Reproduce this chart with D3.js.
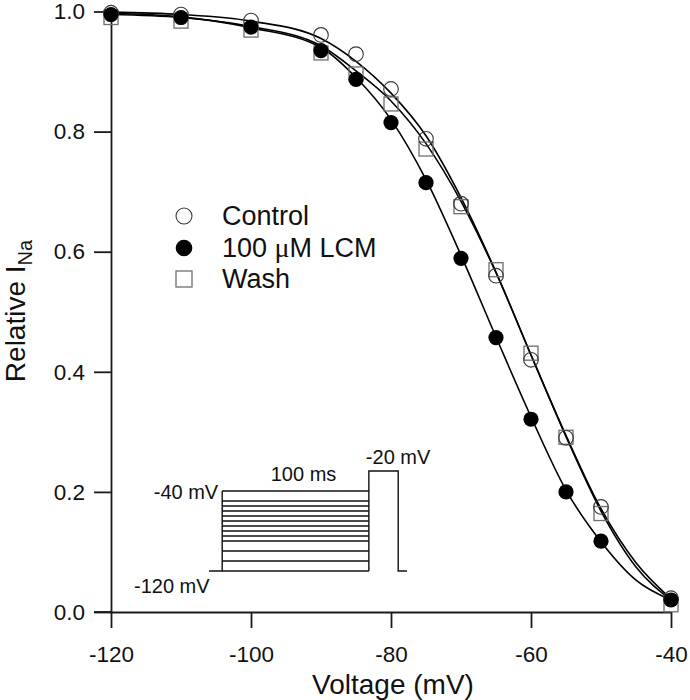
<!DOCTYPE html>
<html>
<head>
<meta charset="utf-8">
<script src="https://cdn.jsdelivr.net/npm/d3@7"></script>
<style>
  html, body { margin: 0; padding: 0; background: #fff; }
  svg { display: block; font-family: Arial, "Liberation Sans", sans-serif; }
</style>
</head>
<body>
<svg id="chart" width="690" height="700"></svg>
<script>
// ---- data ----
const voltages = [-120, -110, -100, -90, -85, -80, -75, -70, -65, -60, -55, -50, -40];
const control  = [0.998, 0.995, 0.985, 0.961, 0.929, 0.871, 0.788, 0.680, 0.560, 0.420, 0.290, 0.175, 0.023];
const lcm      = [0.995, 0.990, 0.974, 0.935, 0.887, 0.815, 0.715, 0.589, 0.457, 0.321, 0.200, 0.118, 0.020];
const wash     = [0.990, 0.984, 0.969, 0.931, 0.896, 0.846, 0.771, 0.675, 0.570, 0.431, 0.291, 0.164, 0.012];

// fitted curves
const fitVoltages = [-120, -110, -100, -90, -85, -80, -75, -70, -65, -60, -55, -50, -45, -40];
const controlFit  = [0.999, 0.995, 0.984, 0.955, 0.917, 0.864, 0.793, 0.690, 0.566, 0.428, 0.294, 0.172, 0.082, 0.022];
const washFit     = [0.995, 0.990, 0.975, 0.943, 0.901, 0.851, 0.780, 0.684, 0.565, 0.428, 0.292, 0.168, 0.075, 0.020];
const lcmFit      = [0.997, 0.991, 0.973, 0.940, 0.890, 0.820, 0.720, 0.594, 0.458, 0.325, 0.203, 0.117, 0.053, 0.020];

const xTicks = [-120, -100, -80, -60, -40];
const yTicks = [0.0, 0.2, 0.4, 0.6, 0.8, 1.0];
// legend labels as [before-mu, mu, after-mu]
const legendLabels = [["Control", "", ""], ["100 ", "\u03BC", "M LCM"], ["Wash", "", ""]];
const xTitle = "Voltage (mV)";

// inset protocol
const protoLevels = [-120, -110, -100, -90, -85, -80, -75, -70, -65, -60, -55, -50, -40];
const protoHold = -120, protoTest = -20;
const protoTimes = [0, 9, 109, 129, 135]; // ms: hold start, prepulse start, prepulse end, test end, end

// ---- layout ----
const svg = d3.select("#chart");
const x = d3.scaleLinear().domain([-120, -40]).range([111, 671]);
const y = d3.scaleLinear().domain([0, 1]).range([612, 11.5]);
const ink = "#1a1a1a";

// axes
const gx = svg.append("g").attr("transform", `translate(0,${y(0)})`)
  .call(d3.axisBottom(x).tickValues(xTicks).tickSize(16).tickSizeOuter(0).tickPadding(18).tickFormat(d => String(d)));
const gy = svg.append("g").attr("transform", `translate(${x(-120)},0)`)
  .call(d3.axisLeft(y).tickValues(yTicks).tickSize(17).tickSizeOuter(0).tickPadding(9).tickFormat(d3.format(".1f")));
[gx, gy].forEach(g => {
  g.selectAll("path.domain").attr("stroke", ink).attr("stroke-width", 1.8);
  g.selectAll(".tick line").attr("stroke", ink).attr("stroke-width", 1.8);
  g.selectAll(".tick text").attr("fill", "#111").style("font-size", "22.5px").style("font-family", "Arial, 'Liberation Sans', sans-serif");
});
// x axis baseline extends left to the end of the y tick
svg.append("line").attr("x1", x(-120) - 17).attr("x2", x(-120)).attr("y1", y(0)).attr("y2", y(0))
  .attr("stroke", ink).attr("stroke-width", 1.8);

// titles
svg.append("text").attr("x", (x(-120) + x(-40)) / 2 + 2).attr("y", 694)
  .attr("text-anchor", "middle").style("font-size", "28px").attr("fill", "#111").text(xTitle);
const yt = svg.append("text").attr("transform", `translate(25,311) rotate(-90)`)
  .attr("text-anchor", "middle").style("font-size", "28px").attr("fill", "#111");
yt.append("tspan").text("Relative I");
yt.append("tspan").attr("dy", 7).style("font-size", "20px").text("Na");

// fitted curves
const line = d3.line().x(d => x(d[0])).y(d => y(d[1])).curve(d3.curveMonotoneX);
[controlFit, washFit, lcmFit].forEach(arr => {
  svg.append("path").datum(fitVoltages.map((v, i) => [v, arr[i]]))
    .attr("d", line).attr("fill", "none").attr("stroke", "#000").attr("stroke-width", 1.6);
});

// markers
const r = 7.3, sq = 14;
svg.append("g").selectAll("rect").data(voltages.map((v, i) => [v, wash[i]])).join("rect")
  .attr("x", d => x(d[0]) - sq / 2).attr("y", d => y(d[1]) - sq / 2)
  .attr("width", sq).attr("height", sq).attr("fill", "none").attr("stroke", "#6e6e6e").attr("stroke-width", 1.3);
svg.append("g").selectAll("circle").data(voltages.map((v, i) => [v, control[i]])).join("circle")
  .attr("cx", d => x(d[0])).attr("cy", d => y(d[1])).attr("r", r)
  .attr("fill", "none").attr("stroke", "#3a3a3a").attr("stroke-width", 1.1);
svg.append("g").selectAll("circle").data(voltages.map((v, i) => [v, lcm[i]])).join("circle")
  .attr("cx", d => x(d[0])).attr("cy", d => y(d[1])).attr("r", 7.6)
  .attr("fill", "#000");

// legend
const lg = svg.append("g");
const legY = [216, 248, 279];
lg.append("circle").attr("cx", 184).attr("cy", legY[0]).attr("r", 8).attr("fill", "none").attr("stroke", "#3a3a3a").attr("stroke-width", 1.1);
lg.append("circle").attr("cx", 184).attr("cy", legY[1]).attr("r", 8.3).attr("fill", "#000");
lg.append("rect").attr("x", 176).attr("y", legY[2] - 8).attr("width", 16).attr("height", 16).attr("fill", "none").attr("stroke", "#6e6e6e").attr("stroke-width", 1.3);
legendLabels.forEach((parts, i) => {
  const t = lg.append("text").attr("x", 222).attr("y", legY[i] + 9).style("font-size", "27px").attr("fill", "#111");
  t.append("tspan").text(parts[0]);
  if (parts[1]) t.append("tspan").style("font-family", "'Liberation Serif', 'DejaVu Serif', serif").style("font-size", "28px").text(parts[1]);
  if (parts[2]) t.append("tspan").text(parts[2]);
});

// inset voltage protocol
const tx = d3.scaleLinear().domain([0, 135]).range([209, 407]);
const vy = d3.scaleLinear().domain([-120, -20]).range([571, 471]);
const pi = svg.append("g").attr("fill", "none").attr("stroke", "#111").attr("stroke-width", 1.4);
const [t0, t1, t2, t3, t4] = protoTimes;
pi.append("path").attr("d", d3.line()([
  [tx(t0), vy(protoHold)], [tx(t1), vy(protoHold)], [tx(t1), vy(d3.max(protoLevels))]
]));
protoLevels.forEach(v => {
  pi.append("line").attr("x1", tx(t1)).attr("x2", tx(t2)).attr("y1", vy(v)).attr("y2", vy(v));
});
pi.append("path").attr("d", d3.line()([
  [tx(t2), vy(protoHold)], [tx(t2), vy(protoTest)], [tx(t3), vy(protoTest)],
  [tx(t3), vy(protoHold)], [tx(t4), vy(protoHold)]
]));
const inFont = "20px";
svg.append("text").attr("x", tx(t1) - 4).attr("y", vy(-40) + 8).attr("text-anchor", "end").style("font-size", inFont).attr("fill", "#111").text("-40 mV");
svg.append("text").attr("x", 134).attr("y", 593).style("font-size", inFont).attr("fill", "#111").text("-120 mV");
svg.append("text").attr("x", (tx(t1) + tx(t2)) / 2 + 8).attr("y", 481).attr("text-anchor", "middle").style("font-size", inFont).attr("fill", "#111").text("100 ms");
svg.append("text").attr("x", tx(t2) - 3).attr("y", 464).style("font-size", inFont).attr("fill", "#111").text("-20 mV");
</script>
</body>
</html>
